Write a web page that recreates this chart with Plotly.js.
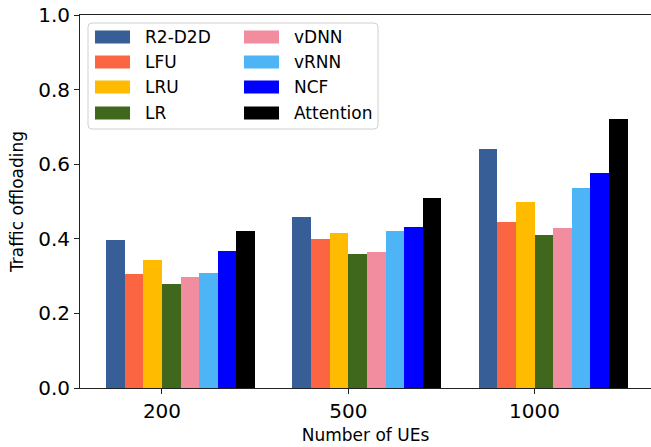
<!DOCTYPE html>
<html>
<head>
<meta charset="utf-8">
<script src="https://cdn.plot.ly/plotly-3.0.1.min.js"></script>
<style>
html, body { margin: 0; padding: 0; overflow: hidden; background: #fff; }
#chart { width: 651px; height: 447px; }
</style>
</head>
<body>
<div id="chart"></div>
<script>
// ---- data ----
var groups = ["200", "500", "1000"];
var seriesNames = ["R2-D2D", "LFU", "LRU", "LR", "vDNN", "vRNN", "NCF", "Attention"];
var seriesColors = ["#375E97", "#FB6542", "#FFBB00", "#3F681C", "#F28C9F", "#4DB4F6", "#0000FF", "#000000"];
var r2d2d     = [0.397, 0.458, 0.641];
var lfu       = [0.306, 0.399, 0.445];
var lru       = [0.343, 0.415, 0.499];
var lr        = [0.279, 0.359, 0.410];
var vdnn      = [0.298, 0.365, 0.429];
var vrnn      = [0.308, 0.421, 0.536];
var ncf       = [0.367, 0.432, 0.576];
var attention = [0.421, 0.509, 0.721];
var seriesValues = [r2d2d, lfu, lru, lr, vdnn, vrnn, ncf, attention];
var yTicks = [0, 0.2, 0.4, 0.6, 0.8, 1.0];

// ---- layout geometry (pixels) ----
var W = 651, H = 447;
var M = {l: 80, r: 0, t: 15, b: 59};
var PW = W - M.l - M.r, PH = H - M.t - M.b;
function px2x(px) { return (px - M.l) / PW; }
function py2y(py) { return (M.t + PH - py) / PH; }

var barW = 0.1;
var xpos = groups.map(function (g, i) { return i; });
var traces = seriesNames.map(function (name, i) {
  return {
    type: "bar",
    name: name,
    x: xpos,
    y: seriesValues[i],
    width: barW,
    offset: (i - 3) * barW,
    marker: {color: seriesColors[i], line: {width: 0}},
    showlegend: false,
    hoverinfo: "x+y+name"
  };
});

// ---- legend (built from series arrays) ----
var shapes = [];
var annotations = [];
var legBox = {x0: 88, x1: 378, y0: 23, y1: 129, r: 4};
(function () {
  var X0 = px2x(legBox.x0), X1 = px2x(legBox.x1);
  var Yt = py2y(legBox.y0), Yb = py2y(legBox.y1);
  var rx = legBox.r / PW, ry = legBox.r / PH;
  var p = "M" + (X0 + rx) + "," + Yt +
          " L" + (X1 - rx) + "," + Yt +
          " Q" + X1 + "," + Yt + " " + X1 + "," + (Yt - ry) +
          " L" + X1 + "," + (Yb + ry) +
          " Q" + X1 + "," + Yb + " " + (X1 - rx) + "," + Yb +
          " L" + (X0 + rx) + "," + Yb +
          " Q" + X0 + "," + Yb + " " + X0 + "," + (Yb + ry) +
          " L" + X0 + "," + (Yt - ry) +
          " Q" + X0 + "," + Yt + " " + (X0 + rx) + "," + Yt + " Z";
  shapes.push({
    type: "path", xref: "paper", yref: "paper", path: p,
    line: {color: "#d0d0d0", width: 1}, fillcolor: "rgba(255,255,255,0.8)", layer: "above"
  });
})();
var rowY = [37, 62, 87, 113];
var colSw = [95, 244];
var colTx = [143, 292];
seriesNames.forEach(function (name, i) {
  var c = Math.floor(i / 4), r = i % 4;
  shapes.push({
    type: "rect", xref: "paper", yref: "paper",
    x0: px2x(colSw[c]), x1: px2x(colSw[c] + 35),
    y0: py2y(rowY[r] + 6.5), y1: py2y(rowY[r] - 6.5),
    line: {width: 0}, fillcolor: seriesColors[i], layer: "above"
  });
  annotations.push({
    xref: "paper", yref: "paper", x: px2x(colTx[c]), y: py2y(rowY[r]),
    xanchor: "left", yanchor: "middle", text: name, showarrow: false,
    font: {family: "DejaVu Sans", size: 17, color: "#000"}
  });
});

var layout = {
  width: W, height: H,
  margin: M,
  paper_bgcolor: "#fff", plot_bgcolor: "#fff",
  font: {family: "DejaVu Sans", color: "#000"},
  barmode: "overlay",
  bargap: 0,
  xaxis: {
    range: [-0.44, -0.44 + PW / 186.3],
    tickvals: xpos, ticktext: groups,
    ticks: "outside", ticklen: 5, tickwidth: 1, tickcolor: "#222",
    showline: true, linecolor: "#222", linewidth: 1, mirror: true,
    showgrid: false, zeroline: false,
    tickfont: {size: 20, family: "DejaVu Sans"},
    title: {text: "Number of UEs", font: {size: 17, family: "DejaVu Sans"}, standoff: 7}
  },
  yaxis: {
    range: [0, 1.0],
    tickvals: yTicks, tickformat: ".1f",
    ticks: "outside", ticklen: 5, tickwidth: 1, tickcolor: "#222",
    showline: true, linecolor: "#222", linewidth: 1, mirror: false,
    showgrid: false, zeroline: false,
    tickfont: {size: 20, family: "DejaVu Sans"},
    title: {text: "Traffic offloading", font: {size: 17, family: "DejaVu Sans"}, standoff: 10}
  },
  shapes: shapes,
  annotations: annotations
};

Plotly.newPlot("chart", traces, layout, {displayModeBar: false, staticPlot: true});
</script>
</body>
</html>
